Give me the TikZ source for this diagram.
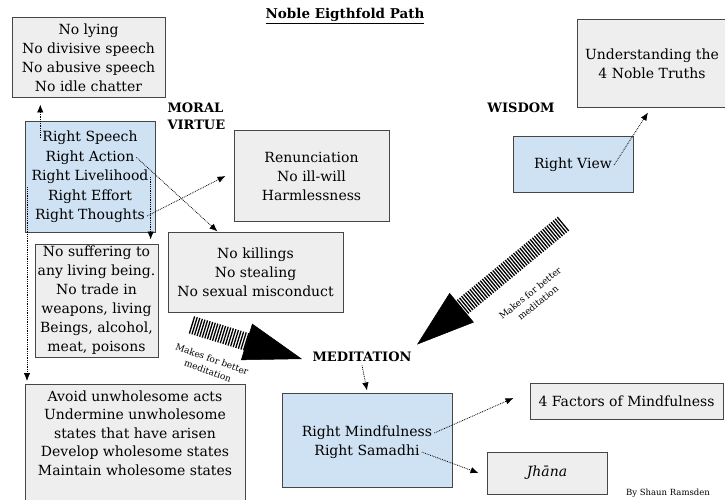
\documentclass[tikz,border=0pt]{standalone}
\usepackage{fontspec}
\setmainfont{DejaVu Serif}
\usepackage{tikz}
\definecolor{boxgray}{RGB}{238, 238, 238}
\definecolor{boxblue}{RGB}{207, 226, 243}
\definecolor{edgegray}{RGB}{70, 70, 70}
\usetikzlibrary{arrows.meta,positioning,calc,decorations.pathreplacing}

\begin{document}
\begin{tikzpicture}[
    x=1pt, y=-1pt,
    every node/.style={font=\fontsize{14}{19}\selectfont, align=center},
    greybox/.style={
        rectangle,
        draw=edgegray,
        fill=boxgray,
        line width=1pt,
        inner sep=2pt
    },
    pathbox/.style={greybox, fill=boxblue},
    line/.style={inner sep=2pt},
    heading/.style={font=\fontsize{13}{17}\selectfont\bfseries},
    note/.style={font=\fontsize{9}{12.5}\selectfont},
    link/.style={-{Latex[length=8pt,width=6.5pt]},densely dotted,line width=0.8pt},
    shaft/.style={decorate,decoration={ticks,segment length=2.7pt,amplitude=9pt},line width=1.3pt},
    head/.style={-{Triangle[length=58pt,width=38pt]},line width=0.5pt}
]
    \useasboundingbox (0,0) rectangle (725,500);

    % Title
    \node[font=\fontsize{13.5}{16}\selectfont\bfseries] (title) at (345,16) {\underline{Noble Eigthfold Path}};

    % Moral virtue
    \node[greybox, minimum width=153pt, minimum height=80pt] (speech) at (88.5,58) {
        No lying\\
        No divisive speech\\
        No abusive speech\\
        No idle chatter
    };
    \node[heading, anchor=west, align=left] (virtue) at (164,116) {MORAL\\VIRTUE};
    \node[pathbox, minimum width=130pt, minimum height=110pt] (eight) at (90,177) {};
    \node[line] (rspeech) at (90,138) {Right Speech};
    \node[line] (raction) at (90,157.5) {Right Action};
    \node[line] (rlive) at (90,177) {Right Livelihood};
    \node[line] (reffort) at (90,196.5) {Right Effort};
    \node[line] (rthought) at (90,216) {Right Thoughts};

    \node[greybox, minimum width=155pt, minimum height=90pt] (renounce) at (311.5,176) {
        Renunciation\\
        No ill-will\\
        Harmlessness
    };
    \node[greybox, minimum width=175pt, minimum height=80pt] (killing) at (255.5,272) {
        No killings\\
        No stealing\\
        No sexual misconduct
    };
    \node[greybox, minimum width=123pt, minimum height=113pt] (suffer) at (96.5,300.5) {
        No suffering to\\
        any living being.\\
        No trade in\\
        weapons, living\\
        Beings, alcohol,\\
        meat, poisons
    };
    \node[greybox, minimum width=220pt, minimum height=125pt, anchor=north] (avoid) at (135,384) {};
    \node[anchor=north, font=\fontsize{14}{18.5}\selectfont] (avoidtext) at ([yshift=-3pt]avoid.north) {
        Avoid unwholesome acts\\
        Undermine unwholesome\\
        states that have arisen\\
        Develop wholesome states\\
        Maintain wholesome states
    };

    % Wisdom
    \node[heading] (wisdom) at (521,108) {WISDOM};
    \node[greybox, minimum width=150pt, minimum height=88pt] (truths) at (652,64) {
        Understanding the\\
        4 Noble Truths
    };
    \node[pathbox, minimum width=120pt, minimum height=56pt] (view) at (573,164) {};
    \node[line] (rview) at (573,165) {Right View};

    % Meditation
    \node[heading] (meditation) at (362,357) {MEDITATION};
    \node[pathbox, minimum width=170pt, minimum height=94pt] (mindful) at (367,440) {};
    \node[line] (rmind) at (367,433) {Right Mindfulness};
    \node[line] (rsamadhi) at (367,452) {Right Samadhi};
    \node[greybox, minimum width=193pt, minimum height=36pt] (factors) at (626.5,401) {4 Factors of Mindfulness};
    \node[greybox, minimum width=120pt, minimum height=42pt] (jhana) at (547,473) {\textit{Jhāna}};

    \node[font=\fontsize{8.5}{10}\selectfont] (credit) at (668,493) {By Shaun Ramsden};

    % Dotted links
    \draw[link] (rspeech.west) -- ([yshift=-6pt]rspeech.west |- speech.south);
    \draw[link] (raction.east) -- ([xshift=50pt]killing.north west);
    \draw[link] (rlive.east) -- ([yshift=4pt]rlive.east |- suffer.north);
    \draw[link] (rthought.east) -- ([xshift=-8pt]renounce.west);
    \draw[link] ([xshift=2.5pt]eight.west |- reffort.north) -- ([xshift=2.5pt,yshift=3pt]eight.west |- avoid.north);
    \draw[link] (meditation.south) -- ([yshift=2pt]mindful.north);
    \draw[link] (rview.east) -- ([xshift=-4pt,yshift=-4pt]truths.south);
    \draw[link] (rmind.east) -- ([xshift=-16pt,yshift=3pt]factors.west);
    \draw[link] (rsamadhi.east) -- ([xshift=-8pt]jhana.west);

    % Big arrows into meditation
    \coordinate (virtuetail) at (192,325);
    \coordinate (medleft) at ([xshift=-7pt,yshift=-2pt]meditation.west);
    \draw[shaft] (virtuetail) -- ($(medleft)!58pt!(virtuetail)$);
    \draw[head] ($(medleft)!58pt!(virtuetail)$) -- (medleft);
    \node[note, rotate=-20] (virtuenote) at (210,365) {Makes for better\\meditation};

    \coordinate (wisdomtail) at (563,224);
    \coordinate (medtop) at ([xshift=55pt,yshift=4pt]meditation.north);
    \draw[shaft] (wisdomtail) -- ($(medtop)!58pt!(wisdomtail)$);
    \draw[head] ($(medtop)!58pt!(wisdomtail)$) -- (medtop);
    \node[note, rotate=39] (wisdomnote) at (534,298) {Makes for better\\meditation};
\end{tikzpicture}
\end{document}
